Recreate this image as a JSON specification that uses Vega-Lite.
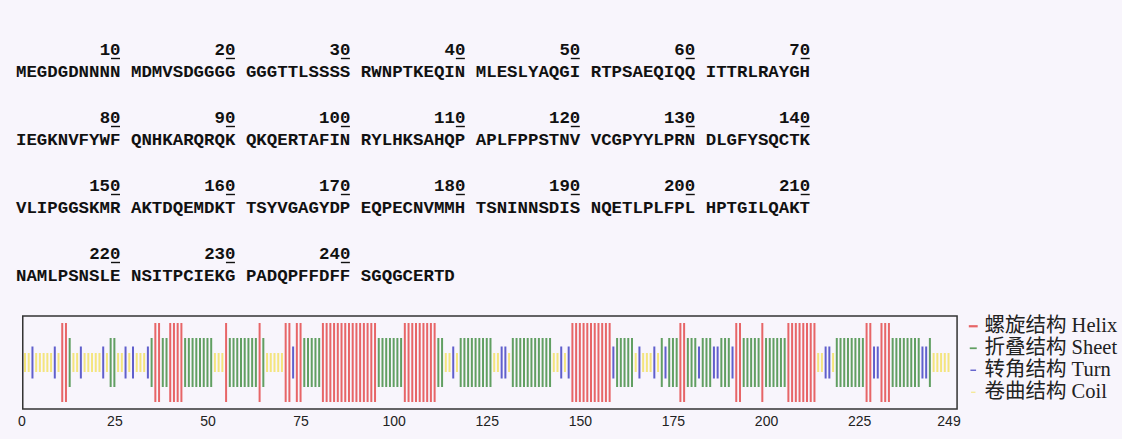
{
  "$schema": "https://vega.github.io/schema/vega-lite/v6.json",
  "width": 1122,
  "height": 409,
  "padding": {"left": 0, "top": 0, "right": 0, "bottom": 11},
  "background": "#f8f5fc",
  "config": {"view": {"stroke": null}},
  "datasets": {
    "groups": [
      {"block": 0, "group": 0, "seq": "MEGDGDNNNN", "num": "10"},
      {"block": 0, "group": 1, "seq": "MDMVSDGGGG", "num": "20"},
      {"block": 0, "group": 2, "seq": "GGGTTLSSSS", "num": "30"},
      {"block": 0, "group": 3, "seq": "RWNPTKEQIN", "num": "40"},
      {"block": 0, "group": 4, "seq": "MLESLYAQGI", "num": "50"},
      {"block": 0, "group": 5, "seq": "RTPSAEQIQQ", "num": "60"},
      {"block": 0, "group": 6, "seq": "ITTRLRAYGH", "num": "70"},
      {"block": 1, "group": 0, "seq": "IEGKNVFYWF", "num": "80"},
      {"block": 1, "group": 1, "seq": "QNHKARQRQK", "num": "90"},
      {"block": 1, "group": 2, "seq": "QKQERTAFIN", "num": "100"},
      {"block": 1, "group": 3, "seq": "RYLHKSAHQP", "num": "110"},
      {"block": 1, "group": 4, "seq": "APLFPPSTNV", "num": "120"},
      {"block": 1, "group": 5, "seq": "VCGPYYLPRN", "num": "130"},
      {"block": 1, "group": 6, "seq": "DLGFYSQCTK", "num": "140"},
      {"block": 2, "group": 0, "seq": "VLIPGGSKMR", "num": "150"},
      {"block": 2, "group": 1, "seq": "AKTDQEMDKT", "num": "160"},
      {"block": 2, "group": 2, "seq": "TSYVGAGYDP", "num": "170"},
      {"block": 2, "group": 3, "seq": "EQPECNVMMH", "num": "180"},
      {"block": 2, "group": 4, "seq": "TSNINNSDIS", "num": "190"},
      {"block": 2, "group": 5, "seq": "NQETLPLFPL", "num": "200"},
      {"block": 2, "group": 6, "seq": "HPTGILQAKT", "num": "210"},
      {"block": 3, "group": 0, "seq": "NAMLPSNSLE", "num": "220"},
      {"block": 3, "group": 1, "seq": "NSITPCIEKG", "num": "230"},
      {"block": 3, "group": 2, "seq": "PADQPFFDFF", "num": "240"},
      {"block": 3, "group": 3, "seq": "SGQGCERTD", "num": ""}
    ],
    "res": [
      {"pos":1,"aa":"M","ss":"C"},{"pos":2,"aa":"E","ss":"C"},{"pos":3,"aa":"G","ss":"T"},{"pos":4,"aa":"D","ss":"C"},{"pos":5,"aa":"G","ss":"C"},
      {"pos":6,"aa":"D","ss":"C"},{"pos":7,"aa":"N","ss":"C"},{"pos":8,"aa":"N","ss":"C"},{"pos":9,"aa":"N","ss":"T"},{"pos":10,"aa":"N","ss":"C"},
      {"pos":11,"aa":"M","ss":"H"},{"pos":12,"aa":"D","ss":"H"},{"pos":13,"aa":"M","ss":"E"},{"pos":14,"aa":"V","ss":"C"},{"pos":15,"aa":"S","ss":"C"},
      {"pos":16,"aa":"D","ss":"T"},{"pos":17,"aa":"G","ss":"C"},{"pos":18,"aa":"G","ss":"C"},{"pos":19,"aa":"G","ss":"C"},{"pos":20,"aa":"G","ss":"C"},
      {"pos":21,"aa":"G","ss":"C"},{"pos":22,"aa":"G","ss":"T"},{"pos":23,"aa":"G","ss":"C"},{"pos":24,"aa":"T","ss":"E"},{"pos":25,"aa":"T","ss":"E"},
      {"pos":26,"aa":"L","ss":"C"},{"pos":27,"aa":"S","ss":"C"},{"pos":28,"aa":"S","ss":"T"},{"pos":29,"aa":"S","ss":"C"},{"pos":30,"aa":"S","ss":"T"},
      {"pos":31,"aa":"R","ss":"C"},{"pos":32,"aa":"W","ss":"C"},{"pos":33,"aa":"N","ss":"C"},{"pos":34,"aa":"P","ss":"T"},{"pos":35,"aa":"T","ss":"E"},
      {"pos":36,"aa":"K","ss":"H"},{"pos":37,"aa":"E","ss":"H"},{"pos":38,"aa":"Q","ss":"E"},{"pos":39,"aa":"I","ss":"E"},{"pos":40,"aa":"N","ss":"H"},
      {"pos":41,"aa":"M","ss":"H"},{"pos":42,"aa":"L","ss":"H"},{"pos":43,"aa":"E","ss":"H"},{"pos":44,"aa":"S","ss":"E"},{"pos":45,"aa":"L","ss":"E"},
      {"pos":46,"aa":"Y","ss":"E"},{"pos":47,"aa":"A","ss":"E"},{"pos":48,"aa":"Q","ss":"E"},{"pos":49,"aa":"G","ss":"E"},{"pos":50,"aa":"I","ss":"E"},
      {"pos":51,"aa":"R","ss":"E"},{"pos":52,"aa":"T","ss":"C"},{"pos":53,"aa":"P","ss":"C"},{"pos":54,"aa":"S","ss":"C"},{"pos":55,"aa":"A","ss":"H"},
      {"pos":56,"aa":"E","ss":"E"},{"pos":57,"aa":"Q","ss":"E"},{"pos":58,"aa":"I","ss":"E"},{"pos":59,"aa":"Q","ss":"E"},{"pos":60,"aa":"Q","ss":"E"},
      {"pos":61,"aa":"I","ss":"E"},{"pos":62,"aa":"T","ss":"E"},{"pos":63,"aa":"T","ss":"E"},{"pos":64,"aa":"R","ss":"H"},{"pos":65,"aa":"L","ss":"E"},
      {"pos":66,"aa":"R","ss":"C"},{"pos":67,"aa":"A","ss":"C"},{"pos":68,"aa":"Y","ss":"C"},{"pos":69,"aa":"G","ss":"C"},{"pos":70,"aa":"H","ss":"C"},
      {"pos":71,"aa":"I","ss":"H"},{"pos":72,"aa":"E","ss":"H"},{"pos":73,"aa":"G","ss":"T"},{"pos":74,"aa":"K","ss":"H"},{"pos":75,"aa":"N","ss":"H"},
      {"pos":76,"aa":"V","ss":"E"},{"pos":77,"aa":"F","ss":"E"},{"pos":78,"aa":"Y","ss":"E"},{"pos":79,"aa":"W","ss":"E"},{"pos":80,"aa":"F","ss":"E"},
      {"pos":81,"aa":"Q","ss":"H"},{"pos":82,"aa":"N","ss":"H"},{"pos":83,"aa":"H","ss":"H"},{"pos":84,"aa":"K","ss":"H"},{"pos":85,"aa":"A","ss":"H"},
      {"pos":86,"aa":"R","ss":"H"},{"pos":87,"aa":"Q","ss":"H"},{"pos":88,"aa":"R","ss":"H"},{"pos":89,"aa":"Q","ss":"H"},{"pos":90,"aa":"K","ss":"H"},
      {"pos":91,"aa":"Q","ss":"H"},{"pos":92,"aa":"K","ss":"H"},{"pos":93,"aa":"Q","ss":"H"},{"pos":94,"aa":"E","ss":"H"},{"pos":95,"aa":"R","ss":"H"},
      {"pos":96,"aa":"T","ss":"E"},{"pos":97,"aa":"A","ss":"E"},{"pos":98,"aa":"F","ss":"E"},{"pos":99,"aa":"I","ss":"E"},{"pos":100,"aa":"N","ss":"E"},
      {"pos":101,"aa":"R","ss":"E"},{"pos":102,"aa":"Y","ss":"E"},{"pos":103,"aa":"L","ss":"H"},{"pos":104,"aa":"H","ss":"H"},{"pos":105,"aa":"K","ss":"H"},
      {"pos":106,"aa":"S","ss":"H"},{"pos":107,"aa":"A","ss":"H"},{"pos":108,"aa":"H","ss":"H"},{"pos":109,"aa":"Q","ss":"H"},{"pos":110,"aa":"P","ss":"H"},
      {"pos":111,"aa":"A","ss":"H"},{"pos":112,"aa":"P","ss":"E"},{"pos":113,"aa":"L","ss":"E"},{"pos":114,"aa":"F","ss":"C"},{"pos":115,"aa":"P","ss":"C"},
      {"pos":116,"aa":"P","ss":"T"},{"pos":117,"aa":"S","ss":"C"},{"pos":118,"aa":"T","ss":"E"},{"pos":119,"aa":"N","ss":"E"},{"pos":120,"aa":"V","ss":"E"},
      {"pos":121,"aa":"V","ss":"E"},{"pos":122,"aa":"C","ss":"E"},{"pos":123,"aa":"G","ss":"E"},{"pos":124,"aa":"P","ss":"E"},{"pos":125,"aa":"Y","ss":"E"},
      {"pos":126,"aa":"Y","ss":"E"},{"pos":127,"aa":"L","ss":"C"},{"pos":128,"aa":"P","ss":"C"},{"pos":129,"aa":"R","ss":"T"},{"pos":130,"aa":"N","ss":"T"},
      {"pos":131,"aa":"D","ss":"C"},{"pos":132,"aa":"L","ss":"E"},{"pos":133,"aa":"G","ss":"E"},{"pos":134,"aa":"F","ss":"E"},{"pos":135,"aa":"Y","ss":"E"},
      {"pos":136,"aa":"S","ss":"E"},{"pos":137,"aa":"Q","ss":"E"},{"pos":138,"aa":"C","ss":"E"},{"pos":139,"aa":"T","ss":"E"},{"pos":140,"aa":"K","ss":"E"},
      {"pos":141,"aa":"V","ss":"E"},{"pos":142,"aa":"L","ss":"E"},{"pos":143,"aa":"I","ss":"C"},{"pos":144,"aa":"P","ss":"C"},{"pos":145,"aa":"G","ss":"T"},
      {"pos":146,"aa":"G","ss":"C"},{"pos":147,"aa":"S","ss":"T"},{"pos":148,"aa":"K","ss":"H"},{"pos":149,"aa":"M","ss":"H"},{"pos":150,"aa":"R","ss":"H"},
      {"pos":151,"aa":"A","ss":"H"},{"pos":152,"aa":"K","ss":"H"},{"pos":153,"aa":"T","ss":"H"},{"pos":154,"aa":"D","ss":"H"},{"pos":155,"aa":"Q","ss":"H"},
      {"pos":156,"aa":"E","ss":"H"},{"pos":157,"aa":"M","ss":"H"},{"pos":158,"aa":"D","ss":"H"},{"pos":159,"aa":"K","ss":"T"},{"pos":160,"aa":"T","ss":"E"},
      {"pos":161,"aa":"T","ss":"E"},{"pos":162,"aa":"S","ss":"E"},{"pos":163,"aa":"Y","ss":"E"},{"pos":164,"aa":"V","ss":"E"},{"pos":165,"aa":"G","ss":"C"},
      {"pos":166,"aa":"A","ss":"T"},{"pos":167,"aa":"G","ss":"C"},{"pos":168,"aa":"Y","ss":"C"},{"pos":169,"aa":"D","ss":"C"},{"pos":170,"aa":"P","ss":"T"},
      {"pos":171,"aa":"E","ss":"C"},{"pos":172,"aa":"Q","ss":"E"},{"pos":173,"aa":"P","ss":"T"},{"pos":174,"aa":"E","ss":"E"},{"pos":175,"aa":"C","ss":"E"},
      {"pos":176,"aa":"N","ss":"E"},{"pos":177,"aa":"V","ss":"H"},{"pos":178,"aa":"M","ss":"H"},{"pos":179,"aa":"M","ss":"E"},{"pos":180,"aa":"H","ss":"E"},
      {"pos":181,"aa":"T","ss":"E"},{"pos":182,"aa":"S","ss":"T"},{"pos":183,"aa":"N","ss":"E"},{"pos":184,"aa":"I","ss":"E"},{"pos":185,"aa":"N","ss":"E"},
      {"pos":186,"aa":"N","ss":"T"},{"pos":187,"aa":"S","ss":"T"},{"pos":188,"aa":"D","ss":"E"},{"pos":189,"aa":"I","ss":"E"},{"pos":190,"aa":"S","ss":"E"},
      {"pos":191,"aa":"N","ss":"T"},{"pos":192,"aa":"Q","ss":"H"},{"pos":193,"aa":"E","ss":"H"},{"pos":194,"aa":"T","ss":"E"},{"pos":195,"aa":"L","ss":"E"},
      {"pos":196,"aa":"P","ss":"E"},{"pos":197,"aa":"L","ss":"E"},{"pos":198,"aa":"F","ss":"E"},{"pos":199,"aa":"P","ss":"H"},{"pos":200,"aa":"L","ss":"E"},
      {"pos":201,"aa":"H","ss":"E"},{"pos":202,"aa":"P","ss":"E"},{"pos":203,"aa":"T","ss":"E"},{"pos":204,"aa":"G","ss":"E"},{"pos":205,"aa":"I","ss":"E"},
      {"pos":206,"aa":"L","ss":"H"},{"pos":207,"aa":"Q","ss":"H"},{"pos":208,"aa":"A","ss":"H"},{"pos":209,"aa":"K","ss":"H"},{"pos":210,"aa":"T","ss":"H"},
      {"pos":211,"aa":"N","ss":"H"},{"pos":212,"aa":"A","ss":"H"},{"pos":213,"aa":"M","ss":"H"},{"pos":214,"aa":"L","ss":"C"},{"pos":215,"aa":"P","ss":"C"},
      {"pos":216,"aa":"S","ss":"T"},{"pos":217,"aa":"N","ss":"T"},{"pos":218,"aa":"S","ss":"C"},{"pos":219,"aa":"L","ss":"E"},{"pos":220,"aa":"E","ss":"E"},
      {"pos":221,"aa":"N","ss":"E"},{"pos":222,"aa":"S","ss":"E"},{"pos":223,"aa":"I","ss":"E"},{"pos":224,"aa":"T","ss":"E"},{"pos":225,"aa":"P","ss":"E"},
      {"pos":226,"aa":"C","ss":"E"},{"pos":227,"aa":"I","ss":"H"},{"pos":228,"aa":"E","ss":"H"},{"pos":229,"aa":"K","ss":"T"},{"pos":230,"aa":"G","ss":"T"},
      {"pos":231,"aa":"P","ss":"H"},{"pos":232,"aa":"A","ss":"H"},{"pos":233,"aa":"D","ss":"H"},{"pos":234,"aa":"Q","ss":"E"},{"pos":235,"aa":"P","ss":"E"},
      {"pos":236,"aa":"F","ss":"E"},{"pos":237,"aa":"F","ss":"E"},{"pos":238,"aa":"D","ss":"E"},{"pos":239,"aa":"F","ss":"E"},{"pos":240,"aa":"F","ss":"E"},
      {"pos":241,"aa":"S","ss":"E"},{"pos":242,"aa":"G","ss":"T"},{"pos":243,"aa":"Q","ss":"T"},{"pos":244,"aa":"G","ss":"E"},{"pos":245,"aa":"C","ss":"C"},
      {"pos":246,"aa":"E","ss":"C"},{"pos":247,"aa":"R","ss":"C"},{"pos":248,"aa":"T","ss":"C"},{"pos":249,"aa":"D","ss":"C"}
    ]
  },
  "layer": [
    {
      "data": {"name": "res"},
      "mark": {"type": "tick", "orient": "vertical", "thickness": 2},
      "encoding": {
        "x": {"field": "pos", "type": "quantitative", "scale": {"domain": [-5.7135, 295.59], "nice": false, "zero": false},
              "axis": {"orient": "bottom", "values": [0, 25, 50, 75, 100, 125, 150, 175, 200, 225, 249], "domain": false, "ticks": false, "tickSize": 0, "grid": false, "title": null, "labelPadding": 5, "labelFont": "Liberation Sans", "labelFontSize": 14, "labelColor": "#222", "labelOverlap": false, "labelFlush": false}},
        "y": {"datum": 0, "type": "quantitative", "scale": {"domain": [-1, 7.796], "nice": false, "zero": false}, "axis": null},
        "size": {"field": "ss", "type": "ordinal", "scale": {"type": "ordinal", "domain": ["H", "E", "T", "C"], "range": [79, 49, 32, 19]}, "legend": null},
        "color": {"field": "ss", "type": "nominal",
                  "scale": {"domain": ["H", "E", "T", "C"], "range": ["#e02828", "#217a21", "#2020b8", "#f2de48"]},
                  "legend": {"orient": "none", "legendX": 963, "legendY": 316, "title": null, "padding": 0,
                             "symbolType": "M-1,-0.25H1V0.25H-1Z", "symbolSize": 30, "symbolStrokeWidth": 0,
                             "labelFont": "Liberation Serif, Noto Sans CJK SC", "labelFontSize": 20.5, "labelColor": "#222",
                             "rowPadding": 1, "labelOffset": 1,
                             "labelExpr": "datum.label == 'H' ? '螺旋结构 Helix' : datum.label == 'E' ? '折叠结构 Sheet' : datum.label == 'T' ? '转角结构 Turn' : '卷曲结构 Coil'"}}
      }
    },
    {
      "data": {"values": [{}]},
      "mark": {"type": "rect", "fill": null, "stroke": "#333", "strokeWidth": 1.5},
      "encoding": {
        "x": {"datum": 0.4, "type": "quantitative", "scale": {"domain": [-5.7135, 295.59], "nice": false, "zero": false}, "axis": null},
        "x2": {"datum": 251.3},
        "y": {"datum": -1, "type": "quantitative", "scale": {"domain": [-1, 7.796], "nice": false, "zero": false}, "axis": null},
        "y2": {"datum": 1}
      }
    },
    {
      "data": {"name": "groups"},
      "mark": {"type": "text", "align": "right", "baseline": "middle", "dx": 104.5, "font": "Liberation Mono", "fontSize": 17.4, "fontWeight": "bold", "color": "#111"},
      "encoding": {
        "x": {"field": "group", "type": "quantitative", "scale": {"domain": [-0.1392, 9.6216], "nice": false, "zero": false}, "axis": null},
        "y": {"field": "block", "type": "quantitative", "scale": {"domain": [-0.7353, 5.2794], "nice": false, "zero": false, "reverse": true}, "axis": null},
        "text": {"field": "num"}
      }
    },
    {
      "data": {"name": "groups"},
      "transform": [{"filter": "datum.num != ''"}],
      "mark": {"type": "rule", "xOffset": 95, "x2Offset": 104, "yOffset": 8.5, "strokeWidth": 1.4, "color": "#111"},
      "encoding": {
        "x": {"field": "group", "type": "quantitative", "scale": {"domain": [-0.1392, 9.6216], "nice": false, "zero": false}, "axis": null},
        "x2": {"field": "group"},
        "y": {"field": "block", "type": "quantitative", "scale": {"domain": [-0.7353, 5.2794], "nice": false, "zero": false, "reverse": true}, "axis": null}
      }
    },
    {
      "data": {"name": "groups"},
      "mark": {"type": "text", "align": "left", "baseline": "middle", "dy": 22, "font": "Liberation Mono", "fontSize": 17.4, "fontWeight": "bold", "color": "#111"},
      "encoding": {
        "x": {"field": "group", "type": "quantitative", "scale": {"domain": [-0.1392, 9.6216], "nice": false, "zero": false}, "axis": null},
        "y": {"field": "block", "type": "quantitative", "scale": {"domain": [-0.7353, 5.2794], "nice": false, "zero": false, "reverse": true}, "axis": null},
        "text": {"field": "seq"}
      }
    }
  ],
  "resolve": {"scale": {"x": "independent", "y": "independent"}}
}
